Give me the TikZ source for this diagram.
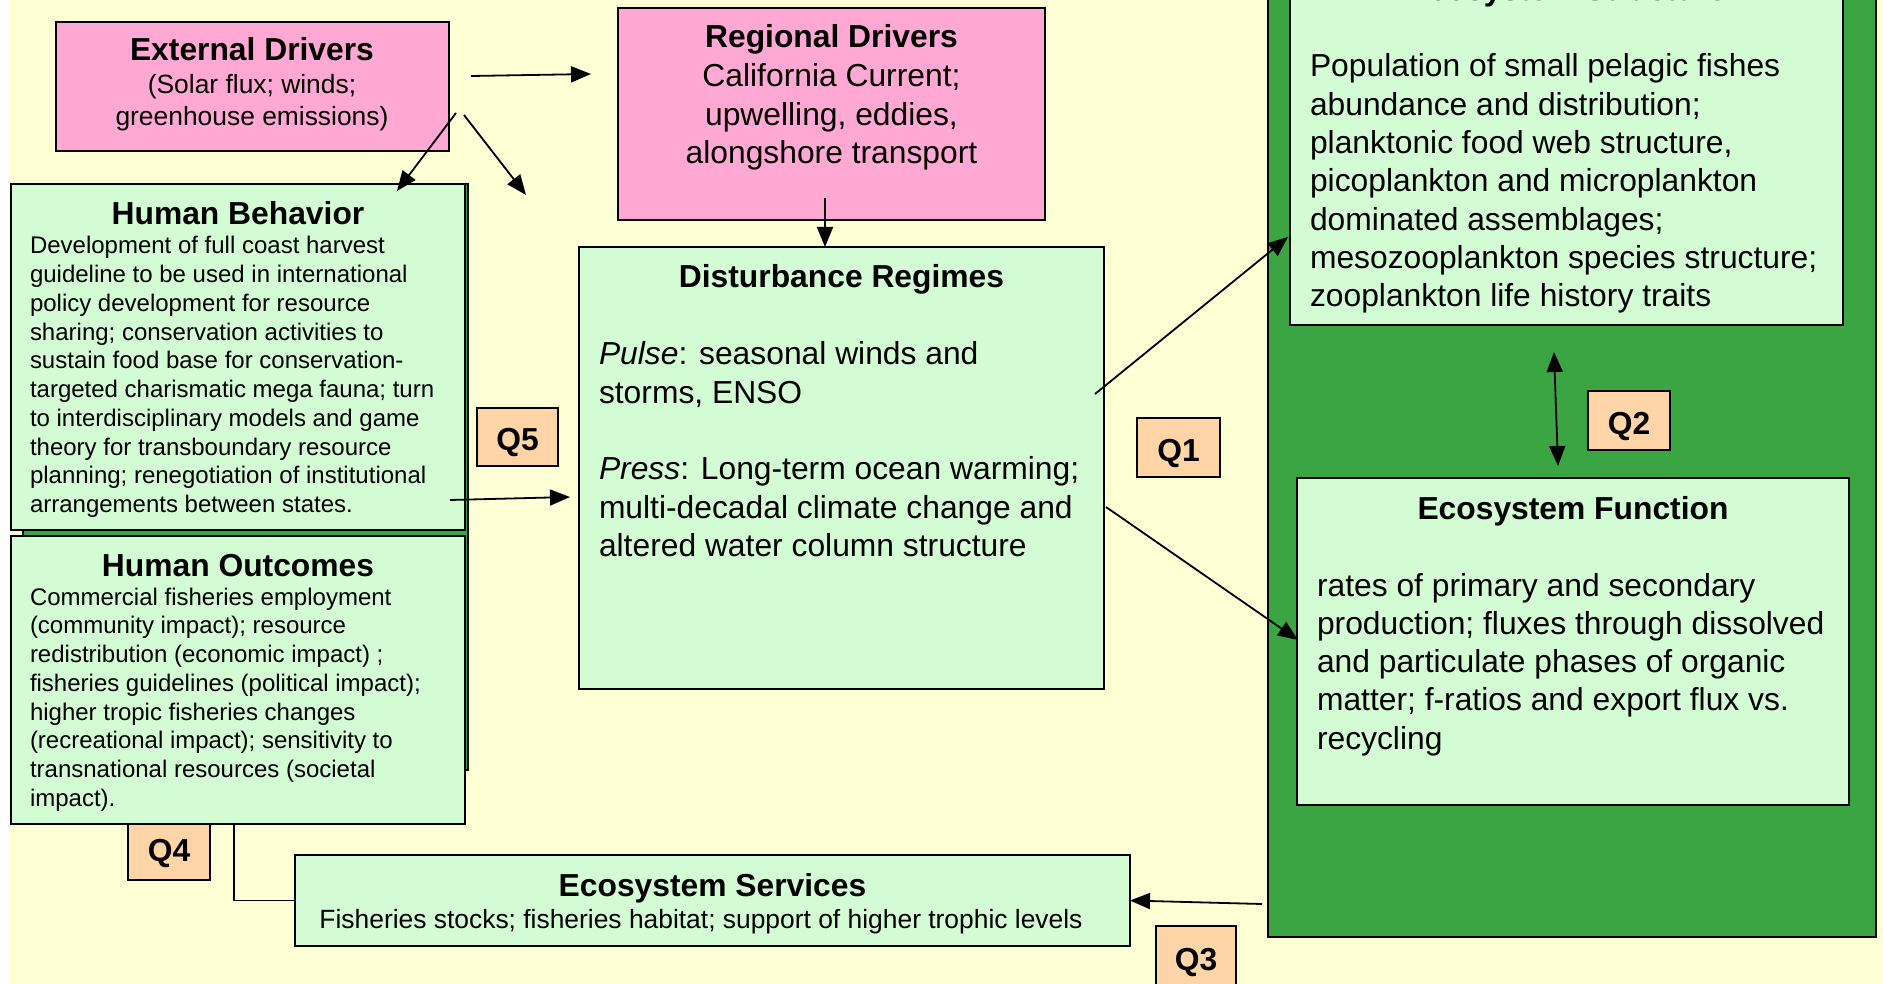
\documentclass[tikz,border=0pt]{standalone}
\usepackage{fontspec}
\setmainfont{Liberation Sans}
\usetikzlibrary{arrows.meta}
\definecolor{bgyellow}{HTML}{FFFFD6}
\definecolor{pinkc}{HTML}{FFA8D3}
\definecolor{lgreen}{HTML}{D3FCD5}
\definecolor{dgreen}{HTML}{3BA543}
\definecolor{peach}{HTML}{FFD5A8}
\newcommand\fTitle{\fontsize{31.8}{38.3}\selectfont\bfseries}
\newcommand\fBig{\fontsize{31.8}{38.3}\selectfont}
\newcommand\fMid{\fontsize{26.4}{32}\selectfont}
\newcommand\fSm{\fontsize{24}{28.75}\selectfont}
\begin{document}
\begin{tikzpicture}[x=1pt,y=-1pt,
  bx/.style={draw=black, line width=2pt, inner sep=0pt, outer sep=0pt, anchor=north west},
  pinkbx/.style={bx, fill=pinkc},
  grbx/.style={bx, fill=lgreen},
  dkbx/.style={bx, fill=dgreen},
  qbx/.style={bx, fill=peach, font=\fTitle, text height=27.5pt, text depth=0pt},
  txt/.style={inner sep=0pt, outer sep=0pt},
  arr/.style={line width=1.8pt, -{Triangle[length=20pt,width=16pt]}},
  darr/.style={line width=1.8pt, {Triangle[length=20pt,width=16pt]}-{Triangle[length=20pt,width=16pt]}},
  plain/.style={line width=1.8pt}]
\useasboundingbox (0,0) rectangle (1883,984);
\fill[bgyellow] (0,0) rectangle (1883,984);
\fill[white] (0,0) rectangle (9,984);

% right green group
\node[dkbx, minimum width=608pt, minimum height=947pt] (bigG) at (1268,-10) {};
\node[grbx, minimum width=553pt, minimum height=335pt] (es) at (1290,-10) {};
\node[grbx, minimum width=552pt, minimum height=327pt] (ef) at (1297,478) {};

% drivers
\node[pinkbx, minimum width=393pt, minimum height=129pt] (ext) at (56,22) {};
\node[pinkbx, minimum width=427pt, minimum height=212pt] (reg) at (618,8) {};
\node[grbx, minimum width=525pt, minimum height=442pt] (dist) at (579,247) {};

% human side
\node[dkbx, minimum width=445pt, minimum height=586pt] (hback) at (23,184) {};
\node[grbx, minimum width=454pt, minimum height=346pt] (hb) at (11,184) {};
\node[qbx, minimum width=82pt, minimum height=64pt] (q4) at (128,816) {Q4};
\node[grbx, minimum width=454pt, minimum height=288pt] (ho) at (11,536) {};
\node[grbx, minimum width=835pt, minimum height=91pt] (ser) at (295,855) {};

% Q boxes
\node[qbx, minimum width=81pt, minimum height=58pt] (q5) at (477,408) {Q5};
\node[qbx, minimum width=83pt, minimum height=59pt] (q1) at (1137,418) {Q1};
\node[qbx, minimum width=82pt, minimum height=59pt] (q2) at (1588,391) {Q2};
\node[qbx, minimum width=80pt, minimum height=62pt] (q3) at (1156,926) {Q3};

% texts
\node[txt, anchor=base] (extT) at (252,61) {\fTitle External Drivers};
\node[txt, anchor=base] (extB) at (252,94) {\parbox[t]{380pt}{\centering\fMid (Solar flux; winds;\\greenhouse emissions)}};

\node[txt, anchor=base] (regT) at (831.5,48) {\fTitle Regional Drivers};
\node[txt, anchor=base] (regB) at (831.5,87) {\parbox[t]{420pt}{\centering\fBig California Current;\\upwelling, eddies,\\alongshore transport}};

\node[txt, anchor=base] (distT) at (841.5,288) {\fTitle Disturbance Regimes};
\node[txt, anchor=base west] (distB) at (599,365) {\parbox[t]{500pt}{\raggedright\fBig \textit{Pulse}: seasonal winds and\\storms, ENSO\\\mbox{}\\\textit{Press}: Long-term ocean warming;\\multi-decadal climate change and\\altered water column structure}};

\node[txt, anchor=base] (hbT) at (238,225) {\fTitle Human Behavior};
\node[txt, anchor=base west] (hbB) at (30,254) {\parbox[t]{432pt}{\raggedright\fSm Development of full coast harvest\\guideline to be used in international\\policy development for resource\\sharing; conservation activities to\\sustain food base for conservation-\\targeted charismatic mega fauna; turn\\to interdisciplinary models and game\\theory for transboundary resource\\planning; renegotiation of institutional\\arrangements between states.}};

\node[txt, anchor=base] (hoT) at (238,576) {\fTitle Human Outcomes};
\node[txt, anchor=base west] (hoB) at (30,605) {\parbox[t]{432pt}{\raggedright\fSm Commercial fisheries employment\\(community impact); resource\\redistribution (economic impact) ;\\fisheries guidelines (political impact);\\higher tropic fisheries changes\\(recreational impact); sensitivity to\\transnational resources (societal\\impact).}};

\node[txt, anchor=base] (serT) at (712.5,896) {\fTitle Ecosystem Services};
\node[txt, anchor=base] (serB) at (701,928) {\fMid Fisheries stocks; fisheries habitat; support of higher trophic levels};

\node[txt, anchor=base] (esT) at (1567,1) {\fTitle Ecosystem Structure};
\node[txt, anchor=base west] (esB) at (1310,77) {\parbox[t]{530pt}{\raggedright\fBig Population of small pelagic fishes\\abundance and distribution;\\planktonic food web structure,\\picoplankton and microplankton\\dominated assemblages;\\mesozooplankton species structure;\\zooplankton life history traits}};

\node[txt, anchor=base] (efT) at (1573,519) {\fTitle Ecosystem Function};
\node[txt, anchor=base west] (efB) at (1317,596) {\parbox[t]{530pt}{\raggedright\fBig rates of primary and secondary\\production; fluxes through dissolved\\and particulate phases of organic\\matter; f-ratios and export flux vs.\\recycling}};

% connector endpoints
\coordinate (a1) at (471,76);
\coordinate (a2) at (591,74);
\coordinate (b1) at (456,113);
\coordinate (b2) at (397,191);
\coordinate (c1) at (464,115);
\coordinate (c2) at (526,195);
\coordinate (d1) at (825,198);
\coordinate (e1) at (450,500);
\coordinate (e2) at (570,497);
\coordinate (f1) at (1095,394);
\coordinate (f2) at (1288,237);
\coordinate (g1) at (1106,507);
\coordinate (g2) at (1298,640);
\coordinate (h1) at (1554,352);
\coordinate (h2) at (1558,466);
\coordinate (i1) at (1262,904);
\coordinate (j1) at (234,824);

% connectors
\draw[arr] (a1) -- (a2);
\draw[arr] (b1) -- (b2);
\draw[arr] (c1) -- (c2);
\draw[arr] (d1) -- (d1 |- dist.north);
\draw[arr] (e1) -- (e2);
\draw[arr] (f1) -- (f2);
\draw[arr] (g1) -- (g2);
\draw[darr] (h1) -- (h2);
\draw[arr] (i1) -- (ser.east);
\draw[plain] (j1) |- (ser.west);
\end{tikzpicture}
\end{document}
